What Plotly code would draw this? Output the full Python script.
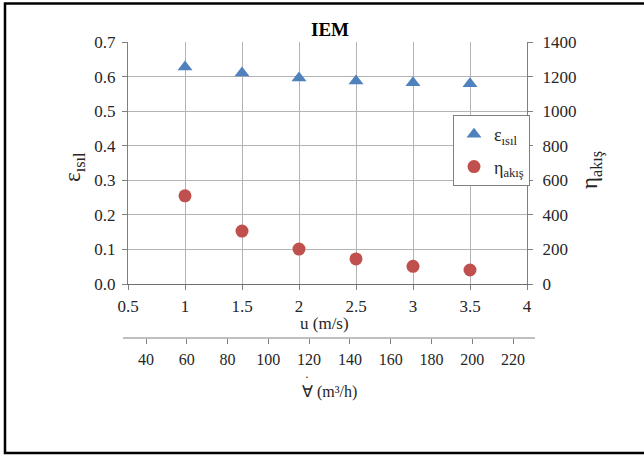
import plotly.graph_objects as go

# ---- data ----
u_vals = [1, 1.5, 2, 2.5, 3, 3.5]
eps_isil = [0.628, 0.610, 0.596, 0.587, 0.582, 0.579]
eta_akis = [510, 306, 202, 145, 102, 81]

x_ticks = [0.5, 1, 1.5, 2, 2.5, 3, 3.5, 4]
y_left_ticks = [0.0, 0.1, 0.2, 0.3, 0.4, 0.5, 0.6, 0.7]
y_right_ticks = [0, 200, 400, 600, 800, 1000, 1200, 1400]
vol_ticks = [40, 60, 80, 100, 120, 140, 160, 180, 200, 220]

FONT = "Liberation Serif"
TXT = "#262626"
GRID = "#b3b3b3"
AX = "#7f7f7f"

W, H = 644, 455
L, R, T, B = 128, 117, 42, 117
PW, PH = W - L - R, H - T - B


def px(xp):
    return (xp - L) / PW


def py(yp):
    return (H - B - yp) / PH


fig = go.Figure()
fig.add_trace(go.Scatter(
    x=u_vals, y=eps_isil, mode="markers", name="ε<sub>ısıl</sub>",
    legendgroup="a",
    marker=dict(symbol="triangle-up", size=13, color="#4f81bd"),
    xaxis="x", yaxis="y"))
fig.add_trace(go.Scatter(
    x=u_vals, y=eta_akis, mode="markers", name="η<sub>akış</sub>",
    legendgroup="b",
    marker=dict(symbol="circle", size=13, color="#c0504d"),
    xaxis="x", yaxis="y2"))

tickfont = dict(family=FONT, size=17, color=TXT)

fig.update_layout(
    width=W, height=H,
    margin=dict(l=L, r=R, t=T, b=B),
    paper_bgcolor="white", plot_bgcolor="white",
    showlegend=True,
    title=dict(text="<b>IEM</b>", x=330 / W, xanchor="center",
               y=1 - 29 / H, yanchor="middle",
               font=dict(family=FONT, size=19, color="#000")),
    xaxis=dict(domain=[0, 1], range=[0.5, 4], tickvals=x_ticks,
               ticktext=[f"{v:g}" for v in x_ticks],
               showgrid=True, gridcolor=GRID, gridwidth=1,
               showline=True, linecolor="#6e6e6e", linewidth=1,
               ticks="outside", ticklen=5, tickcolor=AX,
               tickfont=tickfont, ticklabelstandoff=2,
               zeroline=False, anchor="y"),
    yaxis=dict(domain=[(H - B - 284) / PH, 1], range=[0, 0.7],
               tickvals=y_left_ticks,
               ticktext=[f"{v:.1f}" for v in y_left_ticks],
               showgrid=True, gridcolor=GRID, gridwidth=1,
               showline=True, linecolor=AX, linewidth=1,
               ticks="outside", ticklen=5, tickcolor=AX,
               tickfont=tickfont, ticklabelstandoff=3,
               zeroline=False, anchor="x"),
    yaxis2=dict(overlaying="y", side="right", anchor="x",
                range=[0, 1400], tickvals=y_right_ticks,
                showgrid=False, showline=True, linecolor=AX, linewidth=1,
                ticks="outside", ticklen=5, tickcolor=AX,
                tickfont=tickfont, ticklabelstandoff=6, zeroline=False),
    xaxis2=dict(overlaying="x", anchor="free", position=0, side="bottom",
                range=[40 - 18 / 40.78 * 20, 220 + 14 / 40.78 * 20],
                tickvals=vol_ticks, showgrid=False, showline=False,
                ticks="outside", ticklen=5, tickcolor=AX,
                tickfont=dict(family=FONT, size=16, color=TXT),
                ticklabelstandoff=2, zeroline=False),
    legend=dict(x=px(453), y=py(115), xanchor="left", yanchor="top",
                bgcolor="white", bordercolor="#808080", borderwidth=1,
                font=dict(family=FONT, size=18, color=TXT),
                itemwidth=30, tracegroupgap=6),
)

# invisible trace so xaxis2 is active
fig.add_trace(go.Scatter(x=[vol_ticks[0]], y=[0], xaxis="x2", yaxis="y",
                         mode="markers", marker=dict(opacity=0),
                         showlegend=False, hoverinfo="skip"))

annots = [
    dict(text="u (m/s)", x=px(324), y=py(323), size=17),
    dict(text="\u2200 (m\u00b3/h)", x=px(329), y=py(392), size=16),
    dict(text="\u00b7", x=px(307), y=py(377), size=12),
    dict(text="ε<sub>ısıl</sub>", x=px(74), y=py(167), textangle=-90,
         size=23),
    dict(text="η<sub>akış</sub>", x=px(591), y=py(170), textangle=-90,
         size=23),
]
for a in annots:
    fig.add_annotation(text=a["text"], x=a["x"], y=a["y"], xref="paper",
                       yref="paper", showarrow=False, xanchor="center",
                       yanchor="middle", textangle=a.get("textangle", 0),
                       font=dict(family=FONT, size=a.get("size", 17),
                                 color=TXT))

# volume axis line (extends slightly beyond plot area)
fig.add_shape(type="line", xref="paper", yref="paper",
              x0=px(123), x1=px(535), y0=py(338), y1=py(338),
              line=dict(color=AX, width=1))
# outer frame
fig.add_shape(type="rect", xref="paper", yref="paper",
              x0=px(5), x1=px(648), y0=py(3.5), y1=py(453),
              line=dict(color="black", width=2.5), layer="above")

fig.write_html("out.html")
